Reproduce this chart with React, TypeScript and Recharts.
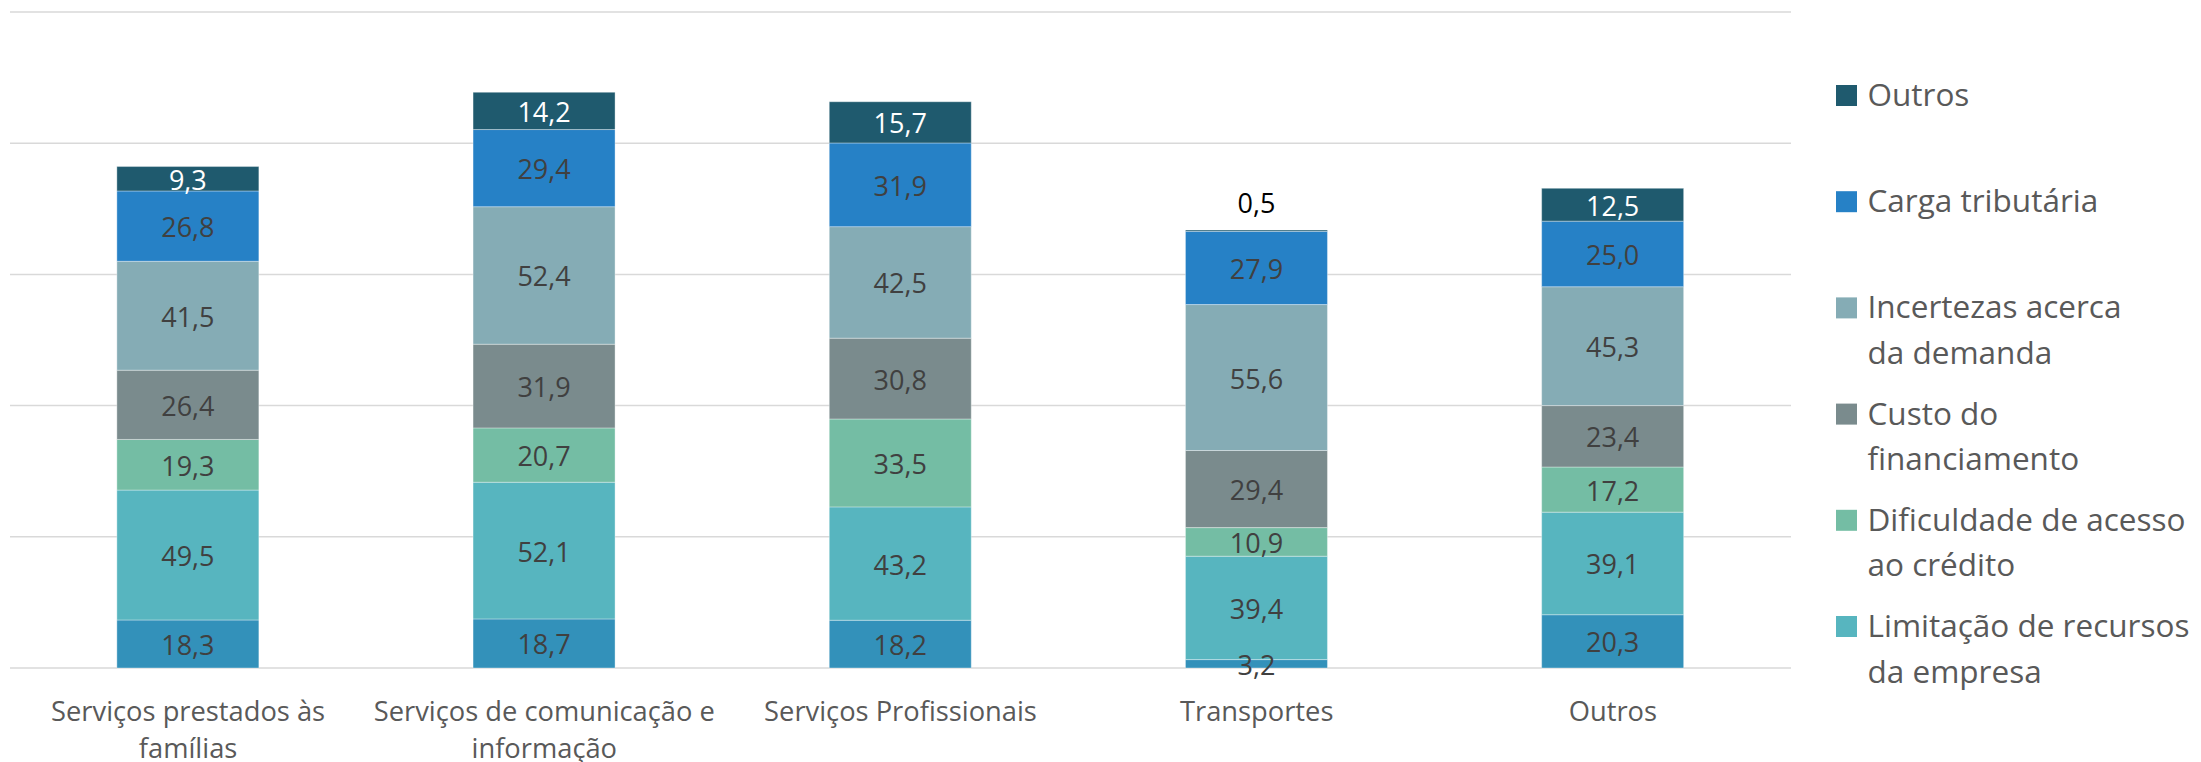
import React from "react";
import { BarChart, Bar, XAxis, YAxis, CartesianGrid, LabelList } from "recharts";

const categories = [
  "Serviços prestados às famílias",
  "Serviços de comunicação e informação",
  "Serviços Profissionais",
  "Transportes",
  "Outros",
];
const categoryLines = [
  ["Serviços prestados às", "famílias"],
  ["Serviços de comunicação e", "informação"],
  ["Serviços Profissionais"],
  ["Transportes"],
  ["Outros"],
];

const baseSeries = [18.3, 18.7, 18.2, 3.2, 20.3];
const limitacao = [49.5, 52.1, 43.2, 39.4, 39.1];
const dificuldade = [19.3, 20.7, 33.5, 10.9, 17.2];
const custo = [26.4, 31.9, 30.8, 29.4, 23.4];
const incertezas = [41.5, 52.4, 42.5, 55.6, 45.3];
const carga = [26.8, 29.4, 31.9, 27.9, 25.0];
const outros = [9.3, 14.2, 15.7, 0.5, 12.5];

const yTicks = [0, 50, 100, 150, 200, 250];

const series = [
  { key: "base", name: "", color: "#3391BA", values: baseSeries, labelColor: "#404040", legendLines: [] as string[] },
  { key: "limitacao", name: "Limitação de recursos da empresa", color: "#57B5BF", values: limitacao, labelColor: "#404040", legendLines: ["Limitação de recursos", "da empresa"] },
  { key: "dificuldade", name: "Dificuldade de acesso ao crédito", color: "#74BDA4", values: dificuldade, labelColor: "#404040", legendLines: ["Dificuldade de acesso", "ao crédito"] },
  { key: "custo", name: "Custo do financiamento", color: "#7A8B8D", values: custo, labelColor: "#404040", legendLines: ["Custo do", "financiamento"] },
  { key: "incertezas", name: "Incertezas acerca da demanda", color: "#85ACB5", values: incertezas, labelColor: "#404040", legendLines: ["Incertezas acerca", "da demanda"] },
  { key: "carga", name: "Carga tributária", color: "#2681C6", values: carga, labelColor: "#404040", legendLines: ["Carga tributária"] },
  { key: "outros", name: "Outros", color: "#1F5A6E", values: outros, labelColor: "#FFFFFF", legendLines: ["Outros"] },
];

const data = categories.map((c, i) => {
  const row: any = { category: c };
  series.forEach((s) => {
    row[s.key] = s.values[i];
  });
  return row;
});

const FONT = "'Open Sans', 'Noto Sans', sans-serif";
const fmt = (v: number) => v.toFixed(1).replace(".", ",");

const makeLabel = (color: string) => (props: any) => {
  const { x, y, width, height, value } = props;
  if (value == null) return null;
  const cx = Number(x) + Number(width) / 2;
  if (Number(height) < 6) {
    return (
      <text x={cx} y={Number(y) - 17} textAnchor="middle" fontFamily={FONT} fontSize={27} fill="#000000">
        {fmt(Number(value))}
      </text>
    );
  }
  const cy = Number(y) + Number(height) / 2;
  return (
    <text x={cx} y={cy + 11} textAnchor="middle" fontFamily={FONT} fontSize={27} fill={color}>
      {fmt(Number(value))}
    </text>
  );
};

const XTick = (props: any) => {
  const { x, y, index } = props;
  const lines = categoryLines[index] || [];
  return (
    <g>
      {lines.map((l, i) => (
        <text key={i} x={x} y={y + 53 + i * 37} textAnchor="middle" fontFamily={FONT} fontSize={27.3} fill="#595959">
          {l}
        </text>
      ))}
    </g>
  );
};

const NoTick = () => <g />;

const legendItems = series.filter((s) => s.legendLines.length > 0).slice().reverse();

const LegendBlock = () => (
  <svg width={365} height={762} style={{ position: "absolute", left: 1836, top: 0, display: "block" }}>
    {legendItems.map((s, i) => {
      const cy = 95.5 + i * 106.2;
      return (
        <g key={s.key}>
          <rect x={0} y={cy - 10.5} width={21} height={21} fill={s.color} />
          {s.legendLines.map((l, j) => (
            <text key={j} x={31.5} y={cy + 10.5 + j * 45.6} fontFamily={FONT} fontSize={31.5} fill="#595959">
              {l}
            </text>
          ))}
        </g>
      );
    })}
  </svg>
);

export default function App() {
  return (
    <div style={{ position: "absolute", left: 0, top: 0, width: 2201, height: 762, background: "#fff" }}>
      <BarChart
        width={2201}
        height={762}
        data={data}
        margin={{ top: 12, right: 410, bottom: 64, left: 10 }}
        barCategoryGap="30%"
      >
        <CartesianGrid vertical={false} stroke="#D9D9D9" strokeWidth={1.5} />
        <YAxis domain={[0, 250]} ticks={yTicks} width={0} tick={<NoTick />} axisLine={false} tickLine={false} />
        <XAxis
          dataKey="category"
          axisLine={false}
          tickLine={false}
          tickSize={0}
          tickMargin={0}
          interval={0}
          height={30}
          tick={<XTick />}
        />
        {series.map((s) => (
          <Bar
            key={s.key}
            dataKey={s.key}
            name={s.name}
            stackId="a"
            fill={s.color}
            stroke="rgba(255,255,255,0.35)"
            strokeWidth={1}
            isAnimationActive={false}
          >
            <LabelList dataKey={s.key} content={makeLabel(s.labelColor)} />
          </Bar>
        ))}
      </BarChart>
      <LegendBlock />
    </div>
  );
}
